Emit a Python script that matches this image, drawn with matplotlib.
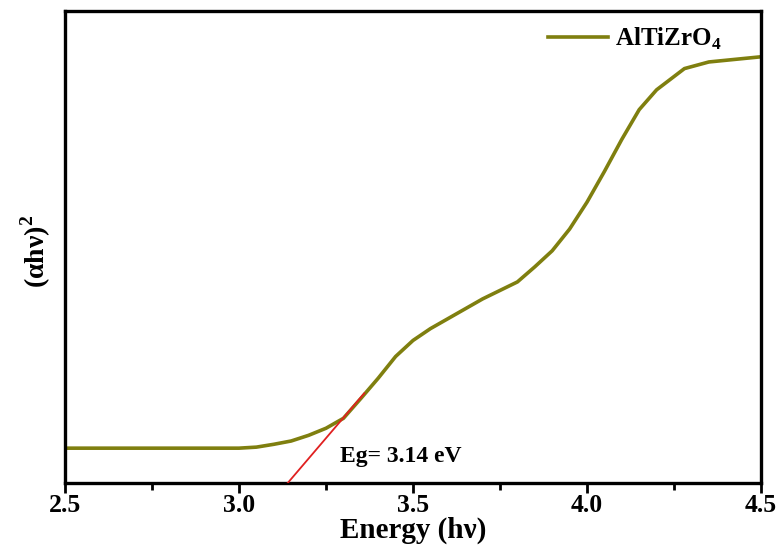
import matplotlib
matplotlib.use("Agg")
import matplotlib.pyplot as plt
from matplotlib.ticker import MultipleLocator

energy = [2.5, 2.7, 2.9, 3.0, 3.05, 3.1, 3.15, 3.2, 3.25, 3.3, 3.35, 3.4, 3.45, 3.5,
          3.55, 3.6, 3.7, 3.8, 3.85, 3.9, 3.95, 4.0, 4.05, 4.1, 4.15, 4.2, 4.28, 4.35, 4.5]
absorb = [7.38, 7.38, 7.38, 7.38, 7.6, 8.2, 8.9, 10.1, 11.6, 13.7, 17.9, 22.2, 26.8, 30.2,
          32.7, 34.8, 39.0, 42.6, 45.8, 49.2, 53.8, 59.5, 66.0, 72.8, 79.1, 83.3, 87.8, 89.2, 90.3]
fit_x = [3.14, 3.36]
fit_y = [0.0, 19.0]
series_label = r"AlTiZrO$_\mathbf{4}$"
eg_text = "Eg= 3.14 eV"

plt.rcParams['font.family'] = ['Liberation Serif', 'DejaVu Serif']
plt.rcParams['mathtext.fontset'] = 'custom'
plt.rcParams['mathtext.rm'] = 'Liberation Serif:bold'
plt.rcParams['mathtext.bf'] = 'Liberation Serif:bold'

fig = plt.figure(figsize=(7.82, 5.52), dpi=100)
ax = fig.add_axes([65/782, 1-483/552, (761-65)/782, (483-11)/552])

ax.plot(energy, absorb, color='#7f7f0f', lw=2.6, label=series_label, zorder=2)
ax.plot(fit_x, fit_y, color='#e02020', lw=1.3, zorder=3)
ax.text(3.29, 5.7, eg_text, fontsize=17, fontweight='bold', va='center', ha='left')

ax.set_xlim(2.5, 4.5)
ax.set_ylim(0, 100)
ax.xaxis.set_major_locator(MultipleLocator(0.5))
ax.xaxis.set_minor_locator(MultipleLocator(0.25))
ax.set_xticks([2.5, 3.0, 3.5, 4.0, 4.5])
ax.set_xticklabels(['2.5', '3.0', '3.5', '4.0', '4.5'], fontsize=18.5, fontweight='bold')
ax.set_yticks([])
ax.tick_params(axis='x', which='major', direction='out', length=7, width=2, pad=1)
ax.tick_params(axis='x', which='minor', direction='out', length=5, width=2)
for s in ax.spines.values():
    s.set_linewidth(2.4)

ax.set_xlabel("Energy (h\u03bd)", fontsize=21, fontweight='bold', labelpad=0)
ax.set_ylabel("(\u03b1h\u03bd)$^2$", fontsize=20, fontweight='bold')
ax.yaxis.set_label_coords(-0.017, 0.49)

leg = ax.legend(loc='upper right', frameon=False, prop={'weight': 'bold', 'size': 18},
                handlelength=2.4, borderaxespad=0.2, handletextpad=0.3,
                bbox_to_anchor=(0.965, 1.0))

fig.savefig("out.png", dpi=100)
